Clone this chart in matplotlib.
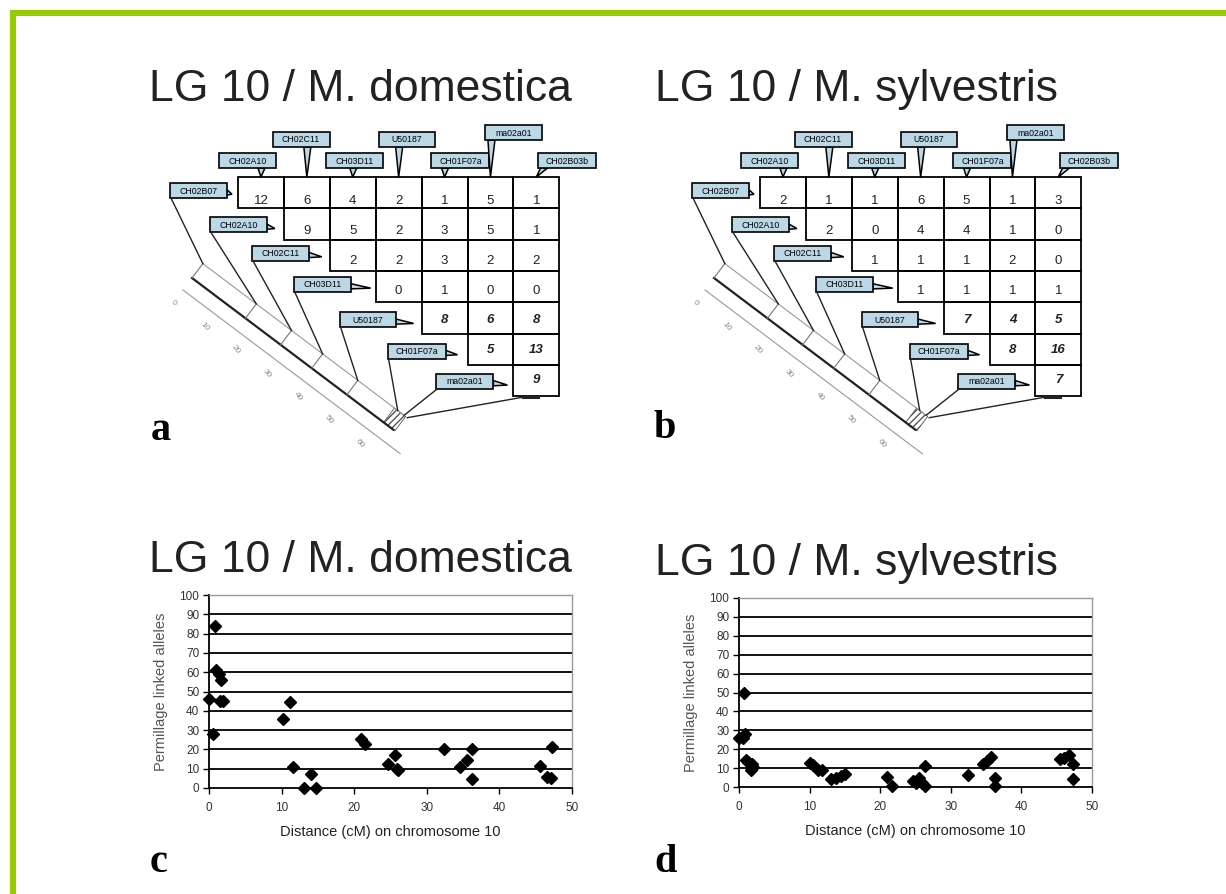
import numpy as np
import matplotlib.pyplot as plt
from matplotlib.patches import Rectangle, Polygon

plt.rcParams['font.family'] = ['Liberation Sans', 'DejaVu Sans']

W, H = 1226, 894

markers = ["CH02B07", "CH02A10", "CH02C11", "CH03D11", "U50187",
           "CH01F07a", "ma02a01", "CH02B03b"]
row_labels = markers[:-1]
col_labels = markers[1:]

dom_matrix = [[12, 6, 4, 2, 1, 5, 1],
              [9, 5, 2, 3, 5, 1],
              [2, 2, 3, 2, 2],
              [0, 1, 0, 0],
              [8, 6, 8],
              [5, 13],
              [9]]
syl_matrix = [[2, 1, 1, 6, 5, 1, 3],
              [2, 0, 4, 4, 1, 0],
              [1, 1, 1, 2, 0],
              [1, 1, 1, 1],
              [7, 4, 5],
              [8, 16],
              [7]]
map_ticks = [0, 10, 20, 30, 40, 50, 60]

dom_dist = [0, 0.6, 0.8, 1.0, 1.4, 1.6, 1.5, 1.9, 10.2, 11.1, 11.6, 13.1, 14.0, 14.8,
            20.9, 21.5, 24.6, 25.6, 25.9, 26.1, 32.4, 34.6, 35.6, 36.2, 36.2,
            45.6, 46.6, 47.1, 47.2]
dom_perm = [46, 28, 84, 61, 59, 56, 45, 45, 36, 44.5, 10.7, 0, 7, 0,
            25.5, 23, 12.4, 17, 10, 9.5, 20, 11, 14.7, 20, 4.7,
            11.5, 5.5, 5.2, 21]
syl_dist = [0, 0.5, 0.8, 0.7, 1.0, 1.3, 1.8, 1.75, 2.0, 10.0, 10.5, 11.2, 11.7,
            13.1, 13.8, 14.5, 15.0, 21.0, 21.7, 24.7, 25.0, 25.5, 25.9, 26.3, 26.3,
            32.5, 34.6, 35.1, 35.7, 36.3, 36.3, 45.4, 46.0, 46.7, 47.3, 47.3]
syl_perm = [26, 26, 28, 50, 14.5, 13, 12.3, 9, 10.6, 12.7, 11.5, 9, 8.8,
            4.2, 5, 6, 6.7, 5.1, 0.5, 3, 2, 4.8, 2, 0.5, 11,
            6.5, 12.4, 13.6, 16, 5, 0.5, 15, 15.5, 17, 12.4, 4.4]

fig = plt.figure(figsize=(W / 100, H / 100), dpi=100)
ov = fig.add_axes([0, 0, 1, 1])
ov.set_xlim(0, W)
ov.set_ylim(H, 0)
ov.axis('off')

# green frame (left and top)
green = '#99cc00'
ov.add_patch(Rectangle((10, 10), 6, H, color=green, lw=0))
ov.add_patch(Rectangle((10, 10), W, 6, color=green, lw=0))

box_col = '#bcd8e6'
cw, ch = 45.9, 31.3
ang = np.deg2rad(37)
u = np.array([np.cos(ang), np.sin(ang)])
nv = np.array([np.sin(ang), -np.cos(ang)])


def callout(x, y, w, h, text, base, tip):
    ov.add_patch(Polygon([base[0], tip, base[1]], closed=True, fc=box_col, ec='black', lw=1.1))
    ov.add_patch(Rectangle((x, y), w, h, fc=box_col, ec='black', lw=1.2))
    ov.text(x + w / 2, y + h / 2 + 0.5, text, fontsize=6.3, ha='center', va='center')


def draw_matrix(x0, y0, mat):
    n = len(mat)
    # cells
    for r, row in enumerate(mat):
        for k, v in enumerate(row):
            c = r + k
            ov.add_patch(Rectangle((x0 + c * cw, y0 + r * ch), cw, ch,
                                   fill=False, ec='black', lw=1.3))
            off = 0.78 - 0.05 * r
            ov.text(x0 + (c + 0.5) * cw, y0 + (r + off) * ch, str(v),
                    fontsize=9.5, ha='center', va='center', color='#222',
                    fontweight='bold' if r >= 4 else 'normal',
                    fontstyle='italic' if r >= 4 else 'normal')

    # chromosome bar
    p0 = np.array([x0 - 46, y0 + 101])
    L, wb = 252, 18
    lo_end = p0 + u * L
    up0 = p0 + nv * wb
    ov.plot([p0[0], lo_end[0]], [p0[1], lo_end[1]], color='#222', lw=1.6)
    ov.plot([up0[0], up0[0] + u[0] * L], [up0[1], up0[1] + u[1] * L], color='#999', lw=0.8)
    for s in [0, 67, 111, 150, 194]:
        a = p0 + u * s
        b = a + nv * wb
        ov.plot([a[0], b[0]], [a[1], b[1]], color='#777', lw=0.8)
    hs, he = 240, 254
    ov.add_patch(Polygon([p0 + u * hs, p0 + u * he, up0 + u * he, up0 + u * hs],
                         closed=True, fill=False, ec='#555', lw=0.6, hatch='/////'))
    # scale
    s0 = p0 - nv * 15
    ov.plot([s0[0], s0[0] + u[0] * 272], [s0[1], s0[1] + u[1] * 272], color='#999', lw=0.8)
    l0 = p0 - nv * 31
    for i, t in enumerate(map_ticks):
        q = l0 + u * 39 * i
        ov.text(q[0], q[1], str(t), fontsize=6, color='#888', rotation=-50,
                ha='center', va='center')

    # row labels with leader lines to the bar
    gaps = [11, 17, 21, 25, 26, 22, 20]
    tips = [5, 8, 13, 20, 18, 12, 14]
    dys = [6, 9, 6, 6, 10, 10, 9]
    bar_pos = [0, 67, 111, 150, 194, 244, 252]
    for r, lab in enumerate(row_labels):
        bw, bh = 50 + len(lab), 15
        right = x0 + r * cw - gaps[r]
        top = y0 + r * ch + dys[r]
        left = right - bw
        tipx = right + tips[r]
        callout(left, top, bw, bh, lab,
                [(right, top + 0.45 * bh), (right, top + 0.8 * bh)],
                (tipx, top + 0.75 * bh))
        q = up0 + u * bar_pos[r]
        ov.plot([left + 1, q[0]], [top + bh, q[1]], color='#222', lw=1.0)
    # last marker leader from the bottom of the matrix
    q = up0 + u * 256
    mx = x0 + 6 * cw + 10
    my = y0 + n * ch + 1
    ov.plot([q[0], mx], [q[1], my], color='#222', lw=1.0)
    ov.plot([mx, mx + 15], [my, my], color='#222', lw=2.2)

    # column labels
    heights = [24, 45, 24, 45, 24, 52, 24]
    for c, lab in enumerate(col_labels):
        bw, bh = 50 + len(lab), 15
        cx = x0 + (c + 0.5) * cw + (-13 + 7.2 * c)
        top = y0 - heights[c]
        left = cx - bw / 2
        tipx = x0 + (c + 0.5) * cw
        bx = max(left + 3, min(tipx - 3, left + bw - 12))
        callout(left, top, bw, bh, lab,
                [(bx, top + bh), (bx + 7, top + bh)], (tipx, y0))


def scatter_panel(rect, xs, ys):
    ax = fig.add_axes(rect)
    ax.set_xlim(0, 50)
    ax.set_ylim(0, 100)
    ax.set_xticks(range(0, 51, 10))
    ax.set_yticks(range(0, 101, 10))
    for v in range(10, 100, 10):
        ax.axhline(v, color='black', lw=1.3, zorder=1)
    ax.plot(xs, ys, 'D', color='black', ms=6.3, clip_on=False, zorder=3)
    for sp in ['top', 'right']:
        ax.spines[sp].set_color('#999')
        ax.spines[sp].set_linewidth(1.0)
    for sp in ['left', 'bottom']:
        ax.spines[sp].set_color('black')
        ax.spines[sp].set_linewidth(1.3)
    ax.tick_params(axis='x', direction='out', length=4, width=1, labelsize=8.5,
                   labelcolor='#333', pad=6)
    ax.tick_params(axis='y', direction='out', length=4, width=1, labelsize=8.5,
                   labelcolor='#333', pad=3)
    ax.set_xlabel('Distance (cM) on chromosome 10', fontsize=10.5, color='#222', labelpad=8)
    ax.set_ylabel('Permillage linked alleles', fontsize=10.5, color='#555', labelpad=8)
    return ax


draw_matrix(238, 177, dom_matrix)
draw_matrix(760, 177, syl_matrix)

ov.text(149, 101, 'LG 10 / M. domestica', fontsize=32, color='#222', va='baseline')
ov.text(655, 101, 'LG 10 / M. sylvestris', fontsize=32, color='#222', va='baseline')
ov.text(149, 572, 'LG 10 / M. domestica', fontsize=32, color='#222', va='baseline')
ov.text(655, 575, 'LG 10 / M. sylvestris', fontsize=32, color='#222', va='baseline')

for lx, ly, lt in [(151, 440, 'a'), (654, 438, 'b'), (150, 872, 'c'), (654, 872, 'd')]:
    ov.text(lx, ly, lt, fontsize=29, fontweight='bold', family='Liberation Serif',
            va='baseline')

scatter_panel([209 / W, 1 - 788 / H, 363 / W, 193 / H], dom_dist, dom_perm)
scatter_panel([739 / W, 1 - 787 / H, 353 / W, 189 / H], syl_dist, syl_perm)

fig.savefig('out.png', dpi=100, facecolor='white')
